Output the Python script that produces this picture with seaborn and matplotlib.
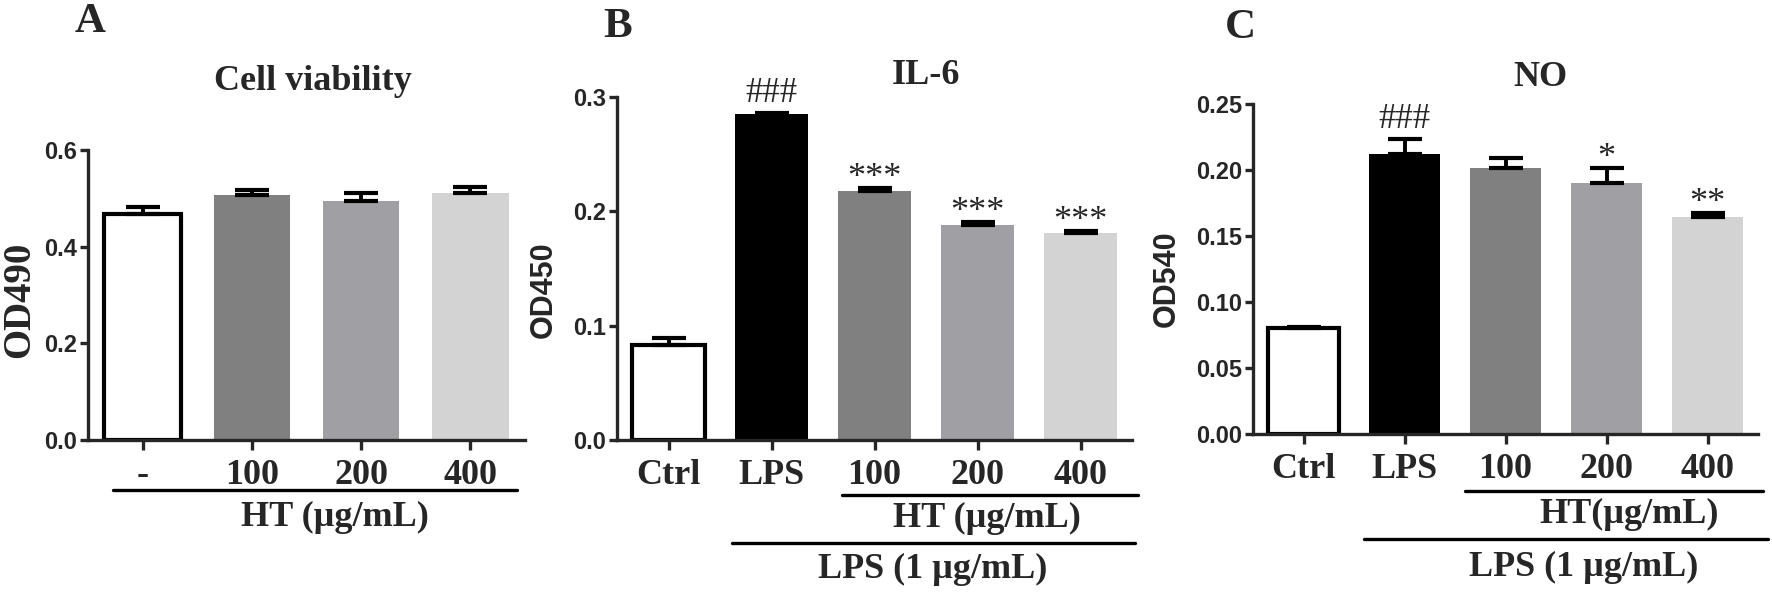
import numpy as np
import seaborn as sns
import matplotlib.pyplot as plt
from matplotlib.lines import Line2D

# data
a_labels = ['-', '100', '200', '400']
a_mean = [0.467, 0.507, 0.495, 0.511]
a_err = [0.015, 0.011, 0.015, 0.012]
a_colors = ['white', '#808080', '#a0a0a4', '#d3d3d3']

bc_labels = ['Ctrl', 'LPS', '100', '200', '400']
bc_colors = ['white', 'black', '#808080', '#a0a0a4', '#d3d3d3']

b_mean = [0.083, 0.285, 0.218, 0.188, 0.181]
b_err = [0.006, 0.001, 0.0025, 0.003, 0.002]
b_marks = ['', '###', '***', '***', '***']

c_mean = [0.080, 0.212, 0.201, 0.190, 0.164]
c_err = [0.001, 0.0115, 0.0075, 0.011, 0.003]
c_marks = ['', '###', '', '*', '**']

sns.set_style('ticks')
SERIF = ['Liberation Serif', 'DejaVu Serif']
SANS = ['Liberation Sans', 'DejaVu Sans']
plt.rcParams['font.family'] = SANS

W, H = 1772, 597
fig = plt.figure(figsize=(W / 100, H / 100), dpi=100)


def fx(px):
    return px / W


def fy(py):
    return 1 - py / H


LW = 2.4


def draw_panel(rect, labels, means, errs, colors, ymax, yticks, fmt, marks=None):
    ax = fig.add_axes(rect)
    sns.barplot(x=labels, y=means, hue=labels, palette=colors, legend=False,
                ax=ax, width=0.7, saturation=1, linewidth=0)
    for patch, col in zip(ax.patches, colors):
        if col == 'white':
            patch.set_edgecolor('black')
            patch.set_linewidth(LW + 0.6)
    n = len(labels)
    ax.errorbar(range(n), means, yerr=[np.zeros(n), errs], fmt='none',
                ecolor='black', elinewidth=LW + 0.4, capsize=12, capthick=LW + 0.6,
                zorder=3)
    if marks:
        for i, m in enumerate(marks):
            if m:
                size = 25 if m.startswith('#') else 26
                off = 2 if m.startswith('#') else -5
                ax.annotate(m, xy=(i, means[i] + errs[i]), xytext=(0, off),
                            textcoords='offset points', ha='center', va='bottom',
                            fontsize=size, family=SERIF)
    ax.set_xlim(-0.5, n - 0.5)
    ax.set_ylim(0, ymax)
    ax.set_yticks(yticks)
    ax.set_yticklabels([fmt.format(t) for t in yticks], fontsize=17,
                       fontweight='bold', family=SANS)
    ax.set_xticks(range(n))
    ax.set_xticklabels(labels, fontsize=26, fontweight='bold', family=SERIF)
    ax.set_xlabel('')
    ax.set_ylabel('')
    sns.despine(ax=ax)
    for s in ['left', 'bottom']:
        ax.spines[s].set_linewidth(LW)
    ax.tick_params(axis='x', length=7, width=LW, pad=7)
    ax.tick_params(axis='y', length=6, width=LW, pad=2)
    ax.set_facecolor('white')
    return ax


axA = draw_panel([fx(88), fy(440), fx(525) - fx(88), (440 - 150) / H],
                 a_labels, a_mean, a_err, a_colors, 0.6, [0, 0.2, 0.4, 0.6], '{:.1f}')
axB = draw_panel([fx(617), fy(440), fx(1132) - fx(617), (440 - 97) / H],
                 bc_labels, b_mean, b_err, bc_colors, 0.3, [0, 0.1, 0.2, 0.3], '{:.1f}',
                 b_marks)
axC = draw_panel([fx(1253), fy(434), fx(1758) - fx(1253), (434 - 103.6) / H],
                 bc_labels, c_mean, c_err, bc_colors, 0.25,
                 [0, 0.05, 0.10, 0.15, 0.20, 0.25], '{:.2f}', c_marks)


def ftext(px, py, s, size, fam=SERIF, weight='bold', rot=0):
    fig.text(fx(px), fy(py), s, fontsize=size, family=fam, fontweight=weight,
             ha='center', va='center', rotation=rot)


def hline(x0, x1, py):
    fig.add_artist(Line2D([fx(x0), fx(x1)], [fy(py), fy(py)], color='black',
                          linewidth=LW, transform=fig.transFigure))


# panel letters and titles
ftext(90, 22, 'A', 31)
ftext(618, 27, 'B', 31)
ftext(1240, 28, 'C', 31)
ftext(313, 82, 'Cell viability', 26)
ftext(926, 76, 'IL-6', 26)
ftext(1540, 78, 'NO', 26)

# y labels
ftext(20, 300, 'OD490', 28, rot=90)
ftext(544, 290, 'OD450', 22, fam=SANS, rot=90)
ftext(1167, 279, 'OD540', 22, fam=SANS, rot=90)

# group lines and labels
hline(113, 517, 490)
ftext(335, 517, 'HT (µg/mL)', 26)

hline(842, 1138, 495)
ftext(987, 518, 'HT (µg/mL)', 26)
hline(732, 1135, 543)
ftext(933, 569, 'LPS (1 µg/mL)', 26)

hline(1465, 1763, 491)
ftext(1629, 514, 'HT(µg/mL)', 26)
hline(1364, 1768, 539)
ftext(1584, 567, 'LPS (1 µg/mL)', 26)

fig.savefig('out.png', dpi=100, facecolor='white')
